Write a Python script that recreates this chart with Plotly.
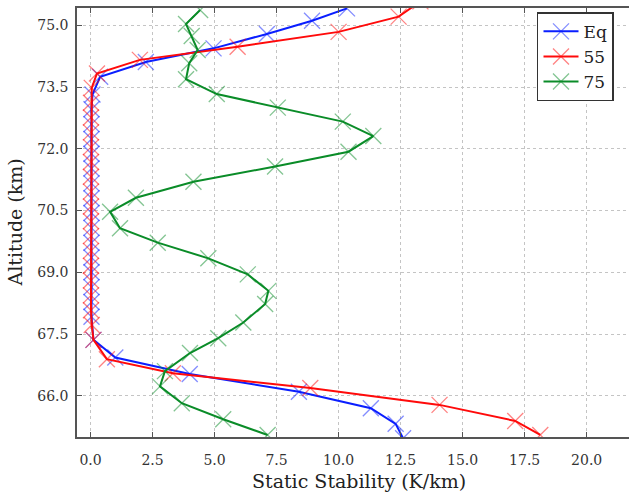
import plotly.graph_objects as go

# ---------------- data ----------------
eq_alt = [64.97, 65.32, 65.70, 66.10, 66.53, 66.93, 67.36, 67.92, 68.28, 68.64, 69.00,
          69.36, 69.72, 70.08, 70.44, 70.80, 71.16, 71.52, 71.88, 72.24, 72.60, 72.96,
          73.32, 73.75, 74.11, 74.44, 74.79, 75.11, 75.41]
eq_val = [12.6, 12.3, 11.3, 8.4, 4.0, 1.0, 0.12, 0.04, 0.04, 0.04, 0.04,
          0.04, 0.04, 0.04, 0.04, 0.04, 0.04, 0.04, 0.04, 0.04, 0.04, 0.04,
          0.08, 0.39, 2.23, 4.96, 7.11, 8.93, 10.34]

r55_alt = [65.05, 65.39, 65.78, 66.19, 66.55, 66.89, 67.36, 67.72, 68.08, 68.44, 68.80,
           69.16, 69.52, 69.88, 70.24, 70.60, 70.96, 71.32, 71.68, 72.04, 72.40, 72.76,
           73.12, 73.48, 73.83, 74.16, 74.48, 74.84, 75.21, 75.58]
r55_val = [18.13, 17.12, 14.07, 8.86, 3.32, 0.66, 0.12, 0.05, 0.02, 0.02, 0.02,
           0.02, 0.02, 0.02, 0.02, 0.02, 0.02, 0.02, 0.02, 0.02, 0.02, 0.02,
           0.02, 0.05, 0.26, 1.99, 5.93, 10.0, 12.42, 13.3]

r75_alt = [65.05, 65.43, 65.82, 66.23, 66.60, 67.04, 67.40, 67.78, 68.23, 68.55, 68.95,
           69.34, 69.72, 70.07, 70.47, 70.81, 71.20, 71.57, 71.93, 72.31, 72.66, 73.00,
           73.33, 73.69, 74.08, 74.40, 74.74, 75.03, 75.37]
r75_val = [7.14, 5.35, 3.68, 2.80, 3.00, 4.01, 5.15, 6.16, 7.04, 7.17, 6.34,
           4.75, 2.71, 1.19, 0.79, 1.83, 4.15, 7.44, 10.40, 11.40, 10.17, 7.55,
           5.09, 3.85, 3.98, 4.32, 4.08, 3.85, 4.42]

series_names = ["Eq", "55", "75"]
series_colors = ["#0a1eff", "#ff0a0a", "#0a8c28"]

x_ticks = [0, 2.5, 5, 7.5, 10, 12.5, 15, 17.5, 20]
x_ticklabels = ["0.0", "2.5", "5.0", "7.5", "10.0", "12.5", "15.0", "17.5", "20.0"]
y_ticks = [66.0, 67.5, 69.0, 70.5, 72.0, 73.5, 75.0]
y_ticklabels = ["66.0", "67.5", "69.0", "70.5", "72.0", "73.5", "75.0"]
x_title = "Static Stability (K/km)"
y_title = "Altitude (km)"

# ---------------- figure ----------------
FONT = "DejaVu Serif"
fig = go.Figure()
for name, xs, ys, col in zip(series_names, [eq_val, r55_val, r75_val],
                             [eq_alt, r55_alt, r75_alt], series_colors):
    fig.add_trace(go.Scatter(
        x=xs, y=ys, name=name, mode="lines+markers",
        line=dict(color=col, width=2),
        marker=dict(symbol="x-thin", size=16, opacity=0.5,
                    line=dict(color=col, width=1.3)),
    ))

axis_common = dict(
    showline=True, linecolor="#555555", linewidth=1.5,
    ticks="inside", ticklen=5, tickcolor="#555555", tickwidth=1,
    showgrid=True, gridcolor="#c4c4c4", griddash="dot", gridwidth=1,
    zeroline=False, automargin=False,
    tickfont=dict(family=FONT, size=14, color="#333333"),
)

# the original axes run a little past the right edge of the picture
fig.update_xaxes(
    range=[-0.544, 22.19], tickvals=x_ticks, ticktext=x_ticklabels,
    mirror="ticks", ticklabelstandoff=9,
    **axis_common,
)
fig.update_yaxes(
    range=[65.0, 75.42], tickvals=y_ticks, ticktext=y_ticklabels,
    ticklabelstandoff=4,
    **axis_common,
)

fig.update_layout(
    width=641, height=493,
    margin=dict(l=77, r=0, t=8, b=56),
    plot_bgcolor="white", paper_bgcolor="white",
    legend=dict(
        x=0.8156, y=0.99, xanchor="left", yanchor="top",
        bgcolor="white", bordercolor="#333333", borderwidth=1.5,
        font=dict(family=FONT, size=17, color="#222222"),
        itemwidth=35, tracegroupgap=0,
    ),
    annotations=[
        dict(text=x_title, xref="paper", yref="paper", x=0.5, y=-0.1026,
             xanchor="center", yanchor="middle", showarrow=False,
             font=dict(family=FONT, size=19, color="#222222")),
        dict(text=y_title, xref="paper", yref="paper", x=-0.11, y=0.5,
             xanchor="center", yanchor="middle", showarrow=False, textangle=-90,
             font=dict(family=FONT, size=19, color="#222222")),
    ],
)

fig.write_html("out.html", config={"displayModeBar": False},
               post_script="document.body.style.margin='0';document.body.style.overflow='hidden';")
